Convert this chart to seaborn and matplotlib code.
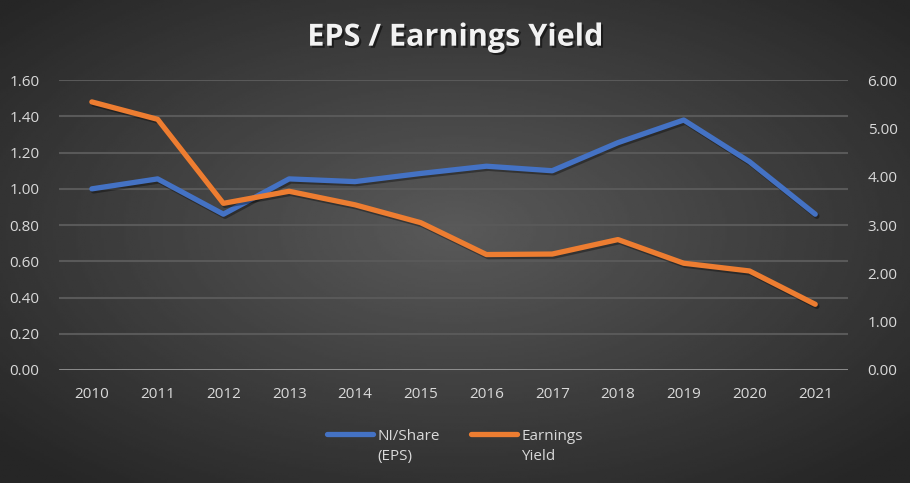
import numpy as np
import pandas as pd
import seaborn as sns
import matplotlib.pyplot as plt
import matplotlib.patheffects as pe
from matplotlib.lines import Line2D

# Data
years = ['2010', '2011', '2012', '2013', '2014', '2015',
         '2016', '2017', '2018', '2019', '2020', '2021']
eps = [1.00, 1.055, 0.86, 1.055, 1.04, 1.085, 1.125, 1.10, 1.255, 1.38, 1.15, 0.86]
earnings_yield = [5.55, 5.19, 3.45, 3.70, 3.42, 3.05, 2.39, 2.40, 2.70, 2.21, 2.05, 1.36]
left_ticks = [0.0, 0.2, 0.4, 0.6, 0.8, 1.0, 1.2, 1.4, 1.6]
right_ticks = [0, 1, 2, 3, 4, 5, 6]
legend_first = ['NI/Share', 'Earnings']
legend_second = ['(EPS)', 'Yield']

df = pd.DataFrame({'year': years, 'eps': eps, 'ey': earnings_yield})
df['x'] = np.arange(len(years))

sns.set_theme(style='dark')
plt.rcParams['font.family'] = ['Open Sans', 'DejaVu Sans']

fig = plt.figure(figsize=(9.1, 4.83), dpi=100)

# radial gradient background
bg = fig.add_axes([0, 0, 1, 1], zorder=-5)
gx, gy = np.meshgrid(np.linspace(-1, 1, 400), np.linspace(-1, 1, 220))
r = np.sqrt(gx ** 2 + (gy + 0.05) ** 2)
r = np.clip(r / 1.35, 0, 1)
shade = 0.35 - 0.20 * r
bg.imshow(shade, cmap='gray', vmin=0, vmax=1, aspect='auto', extent=[0, 1, 0, 1])
bg.set_axis_off()

ax = fig.add_axes([0.0648, 0.234, 0.8672, 0.600])
ax.set_facecolor('none')
ax2 = ax.twinx()

shadow = [pe.SimpleLineShadow(offset=(1.2, -1.5), shadow_color='black', alpha=0.35), pe.Normal()]

sns.lineplot(data=df, x='x', y='eps', ax=ax, color='#4472C4', linewidth=3.8,
             solid_capstyle='round', solid_joinstyle='round', path_effects=shadow, zorder=3)
sns.lineplot(data=df, x='x', y='ey', ax=ax2, color='#ED7D31', linewidth=3.8,
             solid_capstyle='round', solid_joinstyle='round', path_effects=shadow, zorder=3)

ax.set_xlim(-0.5, len(years) - 0.5)
ax.set_ylim(0, 1.6)
ax2.set_ylim(0, 6)
ax.set_xticks(df['x'])
ax.set_xticklabels(years)
ax.set_yticks(left_ticks)
ax.set_yticklabels([f'{v:.2f}' for v in left_ticks])
ax2.set_yticks(right_ticks)
ax2.set_yticklabels([f'{v:.2f}' for v in right_ticks])
ax.set_xlabel('')
ax.set_ylabel('')
ax2.set_ylabel('')

for a in (ax, ax2):
    a.tick_params(colors='#d9d9d9', labelsize=11, length=0)
    for s in a.spines.values():
        s.set_visible(False)
    a.grid(False)
ax.tick_params(axis='y', pad=14)
ax2.tick_params(axis='y', pad=14)
ax.tick_params(axis='x', pad=12)

for v in left_ticks[1:]:
    ax.axhline(v, color='#595959', linewidth=1.5, zorder=1)
ax.axhline(0, color='#a6a6a6', linewidth=1.8, zorder=1)

fig.text(0.5, 0.922, 'EPS / Earnings Yield', ha='center', va='center', color='#f2f2f2',
         fontsize=22, fontweight='bold',
         path_effects=[pe.withSimplePatchShadow(offset=(1.5, -1.5), shadow_rgbFace='black', alpha=0.5)])

# legend: first line next to the handle, second line underneath
handles = [Line2D([0], [0], color='#4472C4', linewidth=3.8, solid_capstyle='round'),
           Line2D([0], [0], color='#ED7D31', linewidth=3.8, solid_capstyle='round')]
leg = fig.legend(handles, legend_first, loc='center',
                 bbox_to_anchor=(0.5, 0.097), ncol=2, frameon=False, fontsize=11,
                 labelcolor='#d9d9d9', handlelength=3.0, handletextpad=0.3, columnspacing=2.0)

fig.canvas.draw()
inv = fig.transFigure.inverted()
for t, second in zip(leg.get_texts(), legend_second):
    bb = t.get_window_extent()
    x0, y0 = inv.transform((bb.x0, bb.y0))
    fig.text(x0, y0 - 0.012, second, ha='left', va='top', fontsize=11, color='#d9d9d9')

fig.savefig('out.png', dpi=100)
